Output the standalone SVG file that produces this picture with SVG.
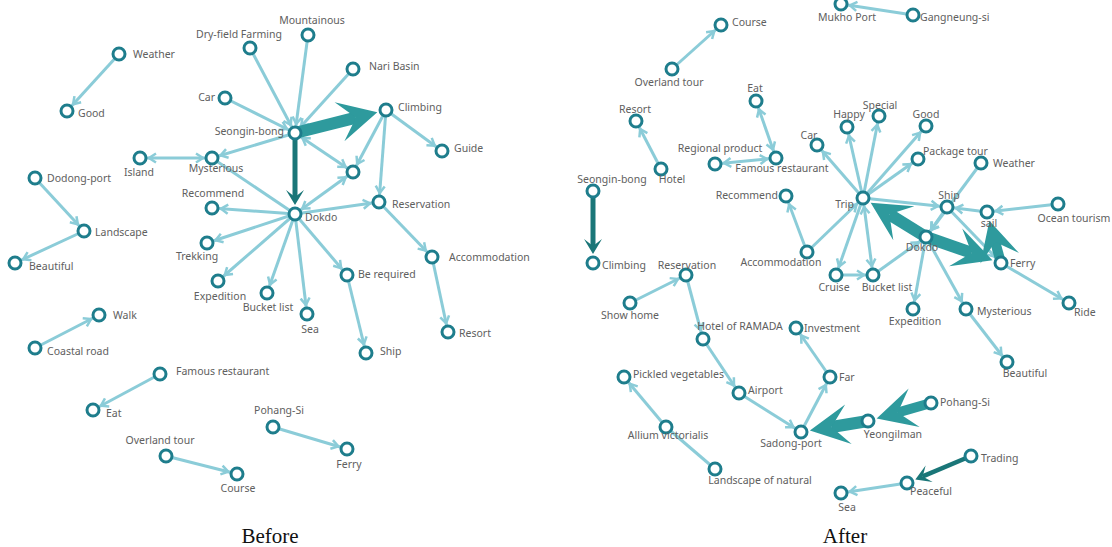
<svg xmlns="http://www.w3.org/2000/svg" width="1112" height="547" viewBox="0 0 1112 547">
<style>
.e{stroke:#8bccd8;stroke-width:3;fill:none}
.tk{stroke:#2e9a9d;fill:none}
.dk{stroke:#1a7678;fill:none}
.n circle{fill:#fff;stroke:#1e7d8c;stroke-width:3}
.n text{font-family:"Noto Sans","Liberation Sans",sans-serif;font-size:10.5px;fill:#606060}
.m{text-anchor:middle}
.r{text-anchor:end}
.cap{font-family:"Liberation Serif","Times New Roman",serif;font-size:21px;fill:#111;text-anchor:middle}
</style>
<defs>
<marker id="a" markerUnits="userSpaceOnUse" viewBox="0 -6 20 12" markerWidth="20" markerHeight="12" refX="17" refY="0" orient="auto-start-reverse"><path d="M1,-4.5 L8,0 L1,4.5" fill="none" stroke="#8bccd8" stroke-width="2.5"/></marker>
<marker id="T" markerUnits="userSpaceOnUse" viewBox="-18 -21 41 42" markerWidth="41" markerHeight="42" refX="0" refY="0" orient="auto"><path d="M22,0 L-17,-20 L0,0 L-17,20 Z" fill="#2e9a9d"/></marker>
<marker id="D" markerUnits="userSpaceOnUse" viewBox="-8 -10 17 20" markerWidth="17" markerHeight="20" refX="0" refY="0" orient="auto"><path d="M8,0 L-7,-9 L0,0 L-7,9 Z" fill="#1a7678"/></marker>
</defs>
<rect width="1112" height="547" fill="#fff"/>
<g id="connectors">
<!-- Before -->
<line class="e" x1="119" y1="54" x2="67" y2="111" marker-end="url(#a)"/>
<line class="e" x1="35" y1="178" x2="84" y2="231" marker-end="url(#a)"/>
<line class="e" x1="84" y1="231" x2="15" y2="263" marker-end="url(#a)"/>
<line class="e" x1="35" y1="348" x2="99" y2="315" marker-end="url(#a)"/>
<line class="e" x1="160" y1="374" x2="93" y2="410" marker-end="url(#a)"/>
<line class="e" x1="166" y1="456" x2="237" y2="474" marker-end="url(#a)"/>
<line class="e" x1="273" y1="427" x2="347" y2="449" marker-end="url(#a)"/>
<line class="e" x1="250" y1="48" x2="295" y2="133" marker-end="url(#a)"/>
<line class="e" x1="308" y1="35" x2="295" y2="133" marker-end="url(#a)"/>
<line class="e" x1="353" y1="69" x2="295" y2="133" marker-end="url(#a)"/>
<line class="e" x1="225" y1="98" x2="295" y2="133" marker-end="url(#a)"/>
<line class="e" x1="295" y1="133" x2="212" y2="158" marker-end="url(#a)"/>
<line class="e" x1="140" y1="158" x2="212" y2="158" marker-start="url(#a)" marker-end="url(#a)"/>
<line class="e" x1="295" y1="133" x2="353" y2="172" marker-start="url(#a)" marker-end="url(#a)"/>
<line class="e" x1="386" y1="110" x2="353" y2="172" marker-end="url(#a)"/>
<line class="e" x1="386" y1="110" x2="379" y2="202" marker-end="url(#a)"/>
<line class="e" x1="386" y1="110" x2="442" y2="151" marker-end="url(#a)"/>
<line class="e" x1="295" y1="214" x2="353" y2="172" marker-start="url(#a)" marker-end="url(#a)"/>
<line class="e" x1="295" y1="214" x2="379" y2="202" marker-end="url(#a)"/>
<line class="e" x1="212" y1="158" x2="295" y2="214"/>
<line class="e" x1="295" y1="214" x2="212" y2="208" marker-end="url(#a)"/>
<line class="e" x1="295" y1="214" x2="207" y2="243" marker-end="url(#a)"/>
<line class="e" x1="295" y1="214" x2="218" y2="281" marker-end="url(#a)"/>
<line class="e" x1="295" y1="214" x2="267" y2="293" marker-end="url(#a)"/>
<line class="e" x1="295" y1="214" x2="307" y2="314" marker-end="url(#a)"/>
<line class="e" x1="295" y1="214" x2="347" y2="275" marker-end="url(#a)"/>
<line class="e" x1="347" y1="275" x2="366" y2="353" marker-end="url(#a)"/>
<line class="e" x1="379" y1="202" x2="432" y2="257" marker-end="url(#a)"/>
<line class="e" x1="432" y1="257" x2="448" y2="332" marker-end="url(#a)"/>
<line class="tk" stroke-width="12" x1="295" y1="133" x2="356" y2="117.6" marker-end="url(#T)"/>
<line class="dk" stroke-width="5" x1="295" y1="133" x2="295" y2="197" marker-end="url(#D)"/>
<!-- After -->
<line class="e" x1="672" y1="69" x2="721" y2="25" marker-end="url(#a)"/>
<line class="e" x1="913" y1="15" x2="841" y2="4" marker-end="url(#a)"/>
<line class="e" x1="661" y1="169" x2="636" y2="121" marker-end="url(#a)"/>
<line class="e" x1="715" y1="164" x2="776" y2="158" marker-start="url(#a)" marker-end="url(#a)"/>
<line class="e" x1="756" y1="101" x2="776" y2="158" marker-start="url(#a)" marker-end="url(#a)"/>
<line class="e" x1="863" y1="198" x2="817" y2="145" marker-end="url(#a)"/>
<line class="e" x1="863" y1="198" x2="847" y2="127" marker-end="url(#a)"/>
<line class="e" x1="863" y1="198" x2="879" y2="116" marker-end="url(#a)"/>
<line class="e" x1="863" y1="198" x2="926" y2="126" marker-end="url(#a)"/>
<line class="e" x1="863" y1="198" x2="918" y2="159" marker-end="url(#a)"/>
<line class="e" x1="863" y1="198" x2="947" y2="207" marker-end="url(#a)"/>
<line class="e" x1="863" y1="198" x2="836" y2="275" marker-end="url(#a)"/>
<line class="e" x1="863" y1="198" x2="873" y2="275" marker-start="url(#a)" marker-end="url(#a)"/>
<line class="e" x1="807" y1="252" x2="863" y2="198" marker-end="url(#a)"/>
<line class="e" x1="807" y1="252" x2="786" y2="196" marker-end="url(#a)"/>
<line class="e" x1="836" y1="275" x2="873" y2="275" marker-end="url(#a)"/>
<line class="e" x1="873" y1="275" x2="926" y2="237" marker-end="url(#a)"/>
<line class="e" x1="947" y1="207" x2="926" y2="237" marker-end="url(#a)"/>
<line class="e" x1="981" y1="163" x2="926" y2="237" marker-end="url(#a)"/>
<line class="e" x1="987" y1="212" x2="947" y2="207" marker-end="url(#a)"/>
<line class="e" x1="1058" y1="204" x2="987" y2="212" marker-end="url(#a)"/>
<line class="e" x1="947" y1="207" x2="1001" y2="263" marker-end="url(#a)"/>
<line class="e" x1="1001" y1="263" x2="1069" y2="303" marker-end="url(#a)"/>
<line class="e" x1="926" y1="237" x2="913" y2="309" marker-end="url(#a)"/>
<line class="e" x1="926" y1="237" x2="966" y2="309" marker-end="url(#a)"/>
<line class="e" x1="966" y1="309" x2="1007" y2="362" marker-end="url(#a)"/>
<line class="e" x1="630" y1="303" x2="686" y2="275" marker-end="url(#a)"/>
<line class="e" x1="686" y1="275" x2="703" y2="339" marker-end="url(#a)"/>
<line class="e" x1="703" y1="339" x2="739" y2="393" marker-end="url(#a)"/>
<line class="e" x1="739" y1="393" x2="801" y2="432" marker-end="url(#a)"/>
<line class="e" x1="801" y1="432" x2="830" y2="377" marker-end="url(#a)"/>
<line class="e" x1="830" y1="377" x2="796" y2="328" marker-end="url(#a)"/>
<line class="e" x1="666" y1="427" x2="624" y2="377" marker-end="url(#a)"/>
<line class="e" x1="715" y1="469" x2="666" y2="427"/>
<line class="e" x1="907" y1="483" x2="841" y2="493" marker-end="url(#a)"/>
<line class="tk" stroke-width="12" x1="926" y1="237" x2="889.4" y2="214.3" marker-end="url(#T)"/>
<line class="tk" stroke-width="12" x1="926" y1="237" x2="971.7" y2="252.9" marker-end="url(#T)"/>
<line class="tk" stroke-width="10" x1="1001" y1="263" x2="995.2" y2="241.9" marker-end="url(#T)"/>
<line class="tk" stroke-width="10" x1="931" y1="403" x2="897.8" y2="412.5" marker-end="url(#T)"/>
<line class="tk" stroke-width="12" x1="868" y1="421" x2="831.6" y2="427" marker-end="url(#T)"/>
<line class="dk" stroke-width="5" x1="593" y1="191" x2="593" y2="246" marker-end="url(#D)"/>
<line class="dk" stroke-width="4.5" x1="971" y1="456" x2="922.7" y2="476.4" marker-end="url(#D)"/>
</g>
<!-- Before nodes -->
<g id="b-weather" class="n"><circle cx="119" cy="54" r="6"/><text x="133" y="58">Weather</text></g>
<g id="b-good" class="n"><circle cx="67" cy="111" r="6"/><text x="78" y="117">Good</text></g>
<g id="b-dryfield" class="n"><circle cx="250" cy="48" r="6"/><text class="m" x="239" y="38">Dry-field Farming</text></g>
<g id="b-mountainous" class="n"><circle cx="308" cy="35" r="6"/><text class="m" x="312" y="24">Mountainous</text></g>
<g id="b-naribasin" class="n"><circle cx="353" cy="69" r="6"/><text x="369" y="70">Nari Basin</text></g>
<g id="b-car" class="n"><circle cx="225" cy="98" r="6"/><text class="r" x="215" y="101">Car</text></g>
<g id="b-seonginbong" class="n"><circle cx="295" cy="133" r="6"/><text class="r" x="284" y="135">Seongin-bong</text></g>
<g id="b-climbing" class="n"><circle cx="386" cy="110" r="6"/><text x="398" y="111">Climbing</text></g>
<g id="b-guide" class="n"><circle cx="442" cy="151" r="6"/><text x="454" y="152">Guide</text></g>
<g id="b-island" class="n"><circle cx="140" cy="158" r="6"/><text class="m" x="139" y="176">Island</text></g>
<g id="b-mysterious" class="n"><circle cx="212" cy="158" r="6"/><text class="m" x="216" y="172">Mysterious</text></g>
<g id="b-unlabeled" class="n"><circle cx="353" cy="172" r="6"/></g>
<g id="b-dokdo" class="n"><circle cx="295" cy="214" r="6"/><text x="305" y="221">Dokdo</text></g>
<g id="b-reservation" class="n"><circle cx="379" cy="202" r="6"/><text x="392" y="208">Reservation</text></g>
<g id="b-recommend" class="n"><circle cx="212" cy="208" r="6"/><text class="m" x="213" y="197">Recommend</text></g>
<g id="b-trekking" class="n"><circle cx="207" cy="243" r="6"/><text class="m" x="197" y="260">Trekking</text></g>
<g id="b-expedition" class="n"><circle cx="218" cy="281" r="6"/><text class="m" x="220" y="300">Expedition</text></g>
<g id="b-bucketlist" class="n"><circle cx="267" cy="293" r="6"/><text class="m" x="268" y="311">Bucket list</text></g>
<g id="b-sea" class="n"><circle cx="307" cy="314" r="6"/><text class="m" x="310" y="333">Sea</text></g>
<g id="b-berequired" class="n"><circle cx="347" cy="275" r="6"/><text x="358" y="278">Be required</text></g>
<g id="b-accommodation" class="n"><circle cx="432" cy="257" r="6"/><text x="449" y="261">Accommodation</text></g>
<g id="b-ship" class="n"><circle cx="366" cy="353" r="6"/><text x="380" y="355">Ship</text></g>
<g id="b-resort" class="n"><circle cx="448" cy="332" r="6"/><text x="459" y="337">Resort</text></g>
<g id="b-dodongport" class="n"><circle cx="35" cy="178" r="6"/><text x="47" y="182">Dodong-port</text></g>
<g id="b-landscape" class="n"><circle cx="84" cy="231" r="6"/><text x="95" y="236">Landscape</text></g>
<g id="b-beautiful" class="n"><circle cx="15" cy="263" r="6"/><text x="29" y="270">Beautiful</text></g>
<g id="b-walk" class="n"><circle cx="99" cy="315" r="6"/><text x="113" y="319">Walk</text></g>
<g id="b-coastalroad" class="n"><circle cx="35" cy="348" r="6"/><text x="47" y="355">Coastal road</text></g>
<g id="b-famousrestaurant" class="n"><circle cx="160" cy="374" r="6"/><text x="176" y="375">Famous restaurant</text></g>
<g id="b-eat" class="n"><circle cx="93" cy="410" r="6"/><text x="106" y="417">Eat</text></g>
<g id="b-pohangsi" class="n"><circle cx="273" cy="427" r="6"/><text class="m" x="279" y="414">Pohang-Si</text></g>
<g id="b-ferry" class="n"><circle cx="347" cy="449" r="6"/><text class="m" x="349" y="468">Ferry</text></g>
<g id="b-overlandtour" class="n"><circle cx="166" cy="456" r="6"/><text class="m" x="160" y="444">Overland tour</text></g>
<g id="b-course" class="n"><circle cx="237" cy="474" r="6"/><text class="m" x="238" y="492">Course</text></g>
<!-- After nodes -->
<g id="a-course" class="n"><circle cx="721" cy="25" r="6"/><text x="732" y="26">Course</text></g>
<g id="a-overlandtour" class="n"><circle cx="672" cy="69" r="6"/><text class="m" x="669" y="86">Overland tour</text></g>
<g id="a-mukhoport" class="n"><circle cx="841" cy="4" r="6"/><text class="m" x="847" y="21">Mukho Port</text></g>
<g id="a-gangneungsi" class="n"><circle cx="913" cy="15" r="6"/><text x="920" y="21">Gangneung-si</text></g>
<g id="a-eat" class="n"><circle cx="756" cy="101" r="6"/><text class="m" x="755" y="92">Eat</text></g>
<g id="a-resort" class="n"><circle cx="636" cy="121" r="6"/><text class="m" x="635" y="113">Resort</text></g>
<g id="a-hotel" class="n"><circle cx="661" cy="169" r="6"/><text class="m" x="672" y="183">Hotel</text></g>
<g id="a-regionalproduct" class="n"><circle cx="715" cy="164" r="6"/><text class="m" x="720" y="152">Regional product</text></g>
<g id="a-famousrestaurant" class="n"><circle cx="776" cy="158" r="6"/><text class="m" x="782" y="172">Famous restaurant</text></g>
<g id="a-car" class="n"><circle cx="817" cy="145" r="6"/><text class="m" x="809" y="139">Car</text></g>
<g id="a-happy" class="n"><circle cx="847" cy="127" r="6"/><text class="m" x="849" y="118">Happy</text></g>
<g id="a-special" class="n"><circle cx="879" cy="116" r="6"/><text class="m" x="880" y="109">Special</text></g>
<g id="a-good" class="n"><circle cx="926" cy="126" r="6"/><text class="m" x="926" y="118">Good</text></g>
<g id="a-packagetour" class="n"><circle cx="918" cy="159" r="6"/><text x="923" y="155">Package tour</text></g>
<g id="a-weather" class="n"><circle cx="981" cy="163" r="6"/><text x="993" y="167">Weather</text></g>
<g id="a-trip" class="n"><circle cx="863" cy="198" r="6"/><text class="r" x="854" y="208">Trip</text></g>
<g id="a-ship" class="n"><circle cx="947" cy="207" r="6"/><text class="m" x="949" y="199">Ship</text></g>
<g id="a-sail" class="n"><circle cx="987" cy="212" r="6"/><text class="m" x="989" y="227">sail</text></g>
<g id="a-oceantourism" class="n"><circle cx="1058" cy="204" r="6"/><text class="m" x="1074" y="222">Ocean tourism</text></g>
<g id="a-dokdo" class="n"><circle cx="926" cy="237" r="6"/><text class="m" x="922" y="251">Dokdo</text></g>
<g id="a-ferry" class="n"><circle cx="1001" cy="263" r="6"/><text x="1010" y="267">Ferry</text></g>
<g id="a-ride" class="n"><circle cx="1069" cy="303" r="6"/><text x="1074" y="316">Ride</text></g>
<g id="a-recommend" class="n"><circle cx="786" cy="196" r="6"/><text class="r" x="778" y="199">Recommend</text></g>
<g id="a-accommodation" class="n"><circle cx="807" cy="252" r="6"/><text class="m" x="781" y="266">Accommodation</text></g>
<g id="a-cruise" class="n"><circle cx="836" cy="275" r="6"/><text class="m" x="834" y="291">Cruise</text></g>
<g id="a-bucketlist" class="n"><circle cx="873" cy="275" r="6"/><text class="m" x="887" y="291">Bucket list</text></g>
<g id="a-expedition" class="n"><circle cx="913" cy="309" r="6"/><text class="m" x="915" y="325">Expedition</text></g>
<g id="a-mysterious" class="n"><circle cx="966" cy="309" r="6"/><text x="977" y="315">Mysterious</text></g>
<g id="a-beautiful" class="n"><circle cx="1007" cy="362" r="6"/><text class="m" x="1025" y="377">Beautiful</text></g>
<g id="a-seonginbong" class="n"><circle cx="593" cy="191" r="6"/><text class="m" x="612" y="183">Seongin-bong</text></g>
<g id="a-climbing" class="n"><circle cx="593" cy="263" r="6"/><text x="602" y="269">Climbing</text></g>
<g id="a-reservation" class="n"><circle cx="686" cy="275" r="6"/><text class="m" x="687" y="269">Reservation</text></g>
<g id="a-showhome" class="n"><circle cx="630" cy="303" r="6"/><text class="m" x="630" y="319">Show home</text></g>
<g id="a-hotelramada" class="n"><circle cx="703" cy="339" r="6"/><text class="m" x="740" y="330">Hotel of RAMADA</text></g>
<g id="a-investment" class="n"><circle cx="796" cy="328" r="6"/><text x="804" y="332">Investment</text></g>
<g id="a-pickled" class="n"><circle cx="624" cy="377" r="6"/><text x="633" y="378">Pickled vegetables</text></g>
<g id="a-airport" class="n"><circle cx="739" cy="393" r="6"/><text x="748" y="394">Airport</text></g>
<g id="a-far" class="n"><circle cx="830" cy="377" r="6"/><text x="839" y="381">Far</text></g>
<g id="a-pohangsi" class="n"><circle cx="931" cy="403" r="6"/><text x="940" y="406">Pohang-Si</text></g>
<g id="a-yeongilman" class="n"><circle cx="868" cy="421" r="6"/><text class="m" x="893" y="438">Yeongilman</text></g>
<g id="a-sadongport" class="n"><circle cx="801" cy="432" r="6"/><text class="m" x="791" y="447">Sadong-port</text></g>
<g id="a-allium" class="n"><circle cx="666" cy="427" r="6"/><text class="m" x="668" y="439">Allium victorialis</text></g>
<g id="a-landscapenatural" class="n"><circle cx="715" cy="469" r="6"/><text class="m" x="760" y="484">Landscape of natural</text></g>
<g id="a-trading" class="n"><circle cx="971" cy="456" r="6"/><text x="981" y="462">Trading</text></g>
<g id="a-peaceful" class="n"><circle cx="907" cy="483" r="6"/><text class="m" x="931" y="495">Peaceful</text></g>
<g id="a-sea" class="n"><circle cx="841" cy="493" r="6"/><text class="m" x="847" y="511">Sea</text></g>
<text class="cap" x="270" y="543">Before</text>
<text class="cap" x="845" y="543">After</text>
</svg>
